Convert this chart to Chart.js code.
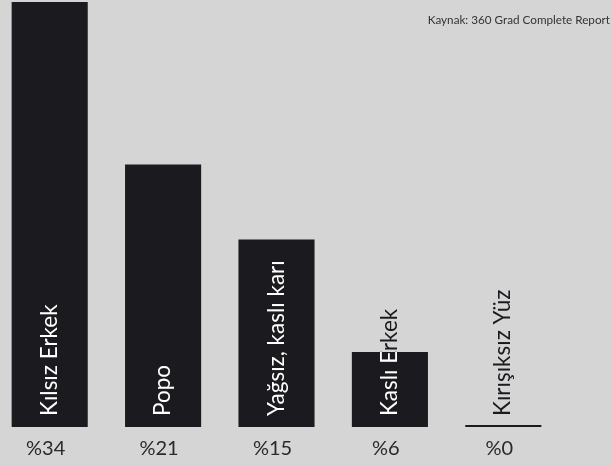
<!DOCTYPE html>
<html>
<head>
<meta charset="utf-8">
<script src="https://cdn.jsdelivr.net/npm/chart.js@4"></script>
<style>
  body { margin: 0; background: #d5d5d5; overflow: hidden; width: 611px; height: 466px; position: relative; }
  #wrap { position: absolute; left: -7px; top: 0; width: 567px; height: 466px; }
  #source { position: absolute; right: 1px; top: 12px; font: 11.7px Lato, "Noto Sans", sans-serif; color: #333; white-space: nowrap; }
</style>
</head>
<body>
<div id="wrap"><canvas id="myChart"></canvas></div>
<div id="source"></div>
<script>
const categories = ["Kılsız Erkek", "Popo", "Yağsız, kaslı karı", "Kaslı Erkek", "Kırışıksız Yüz"]
const values = [34, 21, 15, 6, 0]
const valueLabels = ["%34", "%21", "%15", "%6", "%0"]
const source = "Kaynak: 360 Grad Complete Report"

document.getElementById("source").textContent = source

const labelFont = "22.5px Lato, 'Noto Sans', sans-serif"
const pctFont = "20px Lato, 'Noto Sans', sans-serif"

// white text on the bar, dark where it runs past it
const barLabels = {
  id: "barLabels",
  afterDatasetsDraw(chart) {
    const c = chart.ctx
    const meta = chart.getDatasetMeta(0)
    meta.data.forEach((bar, i) => {
      const left = bar.x - bar.width / 2
      const top = Math.min(bar.y, bar.base)
      const h = Math.abs(bar.base - bar.y)
      const tx = bar.x + 7
      const ty = bar.base - 11
      const draw = (color) => {
        c.save()
        c.translate(tx, ty)
        c.rotate(-Math.PI / 2)
        c.font = labelFont
        c.fillStyle = color
        c.textAlign = "left"
        c.textBaseline = "alphabetic"
        c.fillText(categories[i], 0, 0)
        c.restore()
      }
      c.save()
      c.beginPath()
      c.rect(left, top, bar.width, h)
      c.clip()
      draw("#ffffff")
      c.restore()
      c.save()
      c.beginPath()
      c.rect(0, 0, chart.width, chart.height)
      c.rect(left, top, bar.width, h)
      c.clip("evenodd")
      draw("#1b1a1e")
      c.restore()

      c.save()
      c.font = pctFont
      c.fillStyle = "#2a2a2a"
      c.textAlign = "center"
      c.textBaseline = "middle"
      c.fillText(valueLabels[i], bar.x - 4, bar.base + 22)
      c.restore()
    })
  },
}

const ctx = document.getElementById("myChart")
const myChart = new Chart(ctx, {
  type: "bar",
  data: {
    labels: categories,
    datasets: [
      {
        data: values,
        backgroundColor: "#1b1a1e",
        categoryPercentage: 1,
        barPercentage: 0.671,
        minBarLength: 2,
      },
    ],
  },
  options: {
    responsive: true,
    maintainAspectRatio: false,
    animation: false,
    layout: { padding: { top: 2, bottom: 39, left: 0, right: 0 } },
    scales: {
      x: { display: false },
      y: { display: false, min: 0, max: 34 },
    },
    plugins: {
      legend: { display: false },
      tooltip: { enabled: false },
    },
  },
  plugins: [barLabels],
})
</script>
</body>
</html>
